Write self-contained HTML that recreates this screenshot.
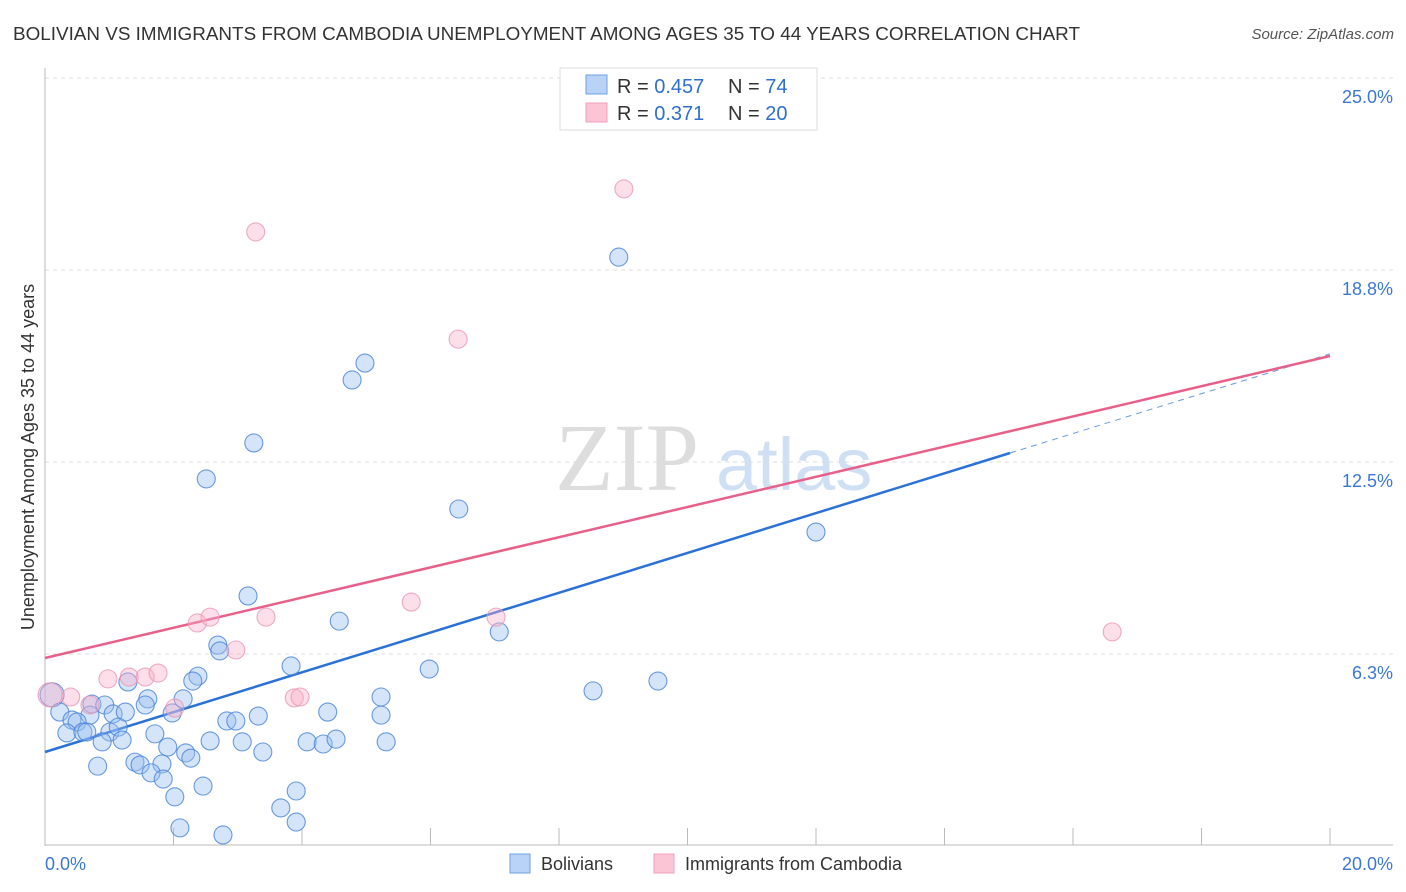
<!DOCTYPE html>
<html><head><meta charset="utf-8"><style>
body{margin:0;background:#fff;font-family:"Liberation Sans",sans-serif;}
svg{display:block}
</style></head><body>
<svg id="chart" width="1406" height="892" xmlns="http://www.w3.org/2000/svg">
<text x="13" y="40" font-size="18" fill="#333" textLength="1067" lengthAdjust="spacingAndGlyphs">BOLIVIAN VS IMMIGRANTS FROM CAMBODIA UNEMPLOYMENT AMONG AGES 35 TO 44 YEARS CORRELATION CHART</text>
<text x="1394" y="39" font-size="15" fill="#555" font-style="italic" text-anchor="end">Source: ZipAtlas.com</text>
<text transform="translate(34,457) rotate(-90)" font-size="18" fill="#333" text-anchor="middle">Unemployment Among Ages 35 to 44 years</text>
<g><text x="555" y="490" font-size="96" font-family="Liberation Serif" fill="#ddd">ZIP</text><text x="716" y="490" font-size="74" fill="#cfe0f4">atlas</text></g>
<g id="grid"></g><g id="lines"></g><g id="pts"></g>
<g>
<rect x="560" y="68" width="257" height="62" fill="#fff" stroke="#ddd"/>
<rect x="586" y="75" width="21" height="19" fill="#b8d3f5" stroke="#6ea0e0"/>
<rect x="586" y="103" width="21" height="19" fill="#fcc5d5" stroke="#f0a0b8"/>
<text x="617" y="93" font-size="20" fill="#333">R = <tspan fill="#2f6fd0">0.457</tspan></text>
<text x="728" y="93" font-size="20" fill="#333">N = <tspan fill="#2f6fd0"> 74</tspan></text>
<text x="617" y="120" font-size="20" fill="#333">R = <tspan fill="#2f6fd0"> 0.371</tspan></text>
<text x="728" y="120" font-size="20" fill="#333">N = <tspan fill="#2f6fd0">20</tspan></text>
</g>
<g>
<rect x="510" y="854" width="20" height="19" fill="#b8d3f5" stroke="#6ea0e0"/>
<text x="541" y="870" font-size="18" fill="#333">Bolivians</text>
<rect x="654" y="854" width="20" height="19" fill="#fcc5d5" stroke="#f0a0b8"/>
<text x="685" y="870" font-size="18" fill="#333">Immigrants from Cambodia</text>
</g>
</svg>
<script>
const yTicks=[6.25,12.5,18.75,25];
const yTickLabels=["6.3%","12.5%","18.8%","25.0%"];
const xTickLabels=["0.0%","20.0%"];
const blueX=[3.16,4.58,7.07,2.69,2.72,3.83,5.98,2.38,2.30,1.29,1.60,1.56,2.15,5.23,5.23,4.40,3.32,2.83,2.97,0.11,0.73,0.93,1.06,1.25,0.70,0.23,0.42,0.50,0.34,0.59,0.65,1.01,1.14,1.20,0.89,1.71,1.98,1.91,2.57,3.07,3.39,2.19,2.27,4.08,4.33,4.53,5.31,0.82,1.40,1.48,1.82,1.65,1.84,2.46,2.02,3.91,3.67,3.91,2.10,2.77,8.93,4.98,4.78,3.25,2.51,6.44,12.00,8.53,9.54];
const blueY=[8.14,7.32,6.97,6.54,6.35,5.86,5.76,5.53,5.37,5.34,4.79,4.59,4.79,4.85,4.26,4.36,4.23,4.07,4.07,4.92,4.62,4.59,4.30,4.36,4.26,4.36,4.10,4.04,3.68,3.71,3.71,3.71,3.87,3.45,3.39,3.65,4.33,3.22,3.42,3.39,3.06,3.03,2.86,3.39,3.32,3.48,3.39,2.60,2.73,2.64,2.67,2.38,2.18,1.95,1.60,1.79,1.24,0.78,0.59,0.36,19.17,15.72,15.17,13.12,11.95,10.97,10.22,5.05,5.37];
const pinkX=[5.70,7.02,2.37,2.57,3.44,2.97,0.98,1.31,1.56,1.76,0.40,0.08,3.88,3.97,0.70,2.02,9.01,3.28,6.43,16.61];
const pinkY=[7.94,7.45,7.26,7.45,7.45,6.38,5.44,5.50,5.50,5.63,4.85,4.92,4.82,4.85,4.59,4.49,21.39,19.99,16.50,6.97];
const blueFit=[3.06,16.02], blueSolidEnd=15.02;
const pinkFit=[6.12,15.95];
const NS="http://www.w3.org/2000/svg";
const X0=45,X1=1330,Y0=846,PY=30.72;
const sx=v=>X0+(X1-X0)*v/20, sy=v=>Y0-v*PY;
function mk(t,a,p){const e=document.createElementNS(NS,t);for(const k in a)e.setAttribute(k,a[k]);p.appendChild(e);return e;}
const grid=document.getElementById('grid');
yTicks.forEach((t,i)=>{
 const l=mk('line',{x1:45,x2:1393,y1:sy(t),y2:sy(t),stroke:'#ddd','stroke-dasharray':'4,4'},grid);
 
 
 const tx=mk('text',{x:1393,y:sy(t)+25,'font-size':18,fill:'#3a78d6','text-anchor':'end'},grid);
 tx.textContent=yTickLabels[i];
 
 
});
mk('line',{x1:45,x2:45,y1:68,y2:846,stroke:'#bbb'},grid);
mk('line',{x1:45,x2:1393,y1:845,y2:845,stroke:'#bbb'},grid);
for(let i=1;i<=10;i++){const t=mk('line',{x1:sx(i*2),x2:sx(i*2),y1:828,y2:845,stroke:'#bbb'},grid);
 
 }
[[0,'start',45],[20,'end',1393]].forEach((d,i)=>{const t=mk('text',{x:d[2],y:870,'font-size':18,fill:'#3a78d6','text-anchor':d[1]},grid);t.textContent=xTickLabels[i];
 
 });
const pts=document.getElementById('pts');
function dots(xs,ys,fill,stroke,name){xs.forEach((x,i)=>{const big=(x<0.2);const c=mk('circle',{cx:sx(x),cy:sy(ys[i]),r:big?12:9,fill:fill,stroke:stroke,'stroke-width':1.1},pts);
 
 });}
dots(blueX,blueY,'rgba(150,190,240,0.4)','rgba(70,130,215,0.8)','bolivian-point');
dots(pinkX,pinkY,'rgba(248,175,200,0.4)','rgba(235,150,180,0.8)','cambodia-point');
const lines=document.getElementById('lines');
const fy=(f,x)=>f[0]+(f[1]-f[0])*x/20;
let b=mk('line',{x1:sx(0),y1:sy(blueFit[0]),x2:sx(blueSolidEnd),y2:sy(fy(blueFit,blueSolidEnd)),stroke:'#2a72d8','stroke-width':2.5},lines);


let bd=mk('line',{x1:sx(blueSolidEnd),y1:sy(fy(blueFit,blueSolidEnd)),x2:sx(20),y2:sy(blueFit[1]),stroke:'#6a9ae0','stroke-width':1,'stroke-dasharray':'6,5'},lines);


let p=mk('line',{x1:sx(0),y1:sy(pinkFit[0]),x2:sx(20),y2:sy(pinkFit[1]),stroke:'#e8608a','stroke-width':2.5},lines);


</script>
</body></html>
